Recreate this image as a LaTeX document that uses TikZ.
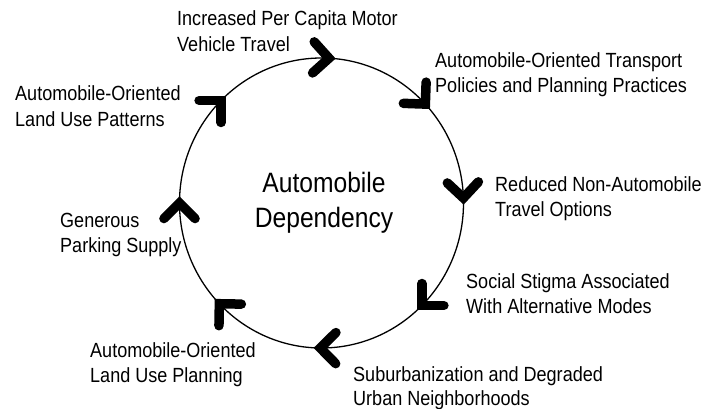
\documentclass[tikz,border=0pt]{standalone}
\usepackage{fontspec}
\usetikzlibrary{calc}
\newfontfamily\labfont[FakeStretch=0.88]{Liberation Sans}
\tikzset{
  lbl/.style={anchor=base west, inner sep=0pt, font=\labfont\fontsize{20.5}{25}\selectfont},
  ctr/.style={anchor=base, inner sep=0pt, font=\labfont\fontsize{28}{34}\selectfont},
  ring/.style={line width=1.3pt, black},
  chev/.style={line width=9.5pt, line cap=round, line join=miter, black}
}
\begin{document}
\begin{tikzpicture}[x=1pt,y=1pt]
\useasboundingbox (0,0) rectangle (705,408);
\coordinate (C) at (321.5,205);
\draw[ring] (C) ellipse [x radius=142pt, y radius=145pt];
\foreach \t [count=\i] in {87,43,2,-45,-90.5,-136,180,135}{
  \coordinate (p\i) at ($(C)+(\t:142pt and 145pt)$);
  \draw[chev] ($(p\i)+(\t+45:22pt)$) -- (p\i) -- ($(p\i)+(\t+135:22pt)$);
}
% labels
\node[lbl] (a1) at (177,{408-26}) {Increased Per Capita Motor};
\node[lbl] (a2) at (177,{408-51.5}) {Vehicle Travel};
\node[lbl] (b1) at (435,{408-68}) {Automobile-Oriented Transport};
\node[lbl] (b2) at (435,{408-93}) {Policies and Planning Practices};
\node[lbl] (c1) at (15,{408-101}) {Automobile-Oriented};
\node[lbl] (c2) at (15,{408-127}) {Land Use Patterns};
\node[lbl] (d1) at (495,{408-191}) {Reduced Non-Automobile};
\node[lbl] (d2) at (495,{408-216}) {Travel Options};
\node[lbl] (e1) at (60,{408-227}) {Generous};
\node[lbl] (e2) at (60,{408-252}) {Parking Supply};
\node[lbl] (f1) at (466,{408-288}) {Social Stigma Associated};
\node[lbl] (f2) at (466,{408-313}) {With Alternative Modes};
\node[lbl] (g1) at (90,{408-357}) {Automobile-Oriented};
\node[lbl] (g2) at (90,{408-382}) {Land Use Planning};
\node[lbl] (h1) at (353,{408-381}) {Suburbanization and Degraded};
\node[lbl] (h2) at (353,{408-405}) {Urban Neighborhoods};
\node[ctr] (m1) at (324,{408-193}) {Automobile};
\node[ctr] (m2) at (324,{408-227}) {Dependency};
\end{tikzpicture}
\end{document}
